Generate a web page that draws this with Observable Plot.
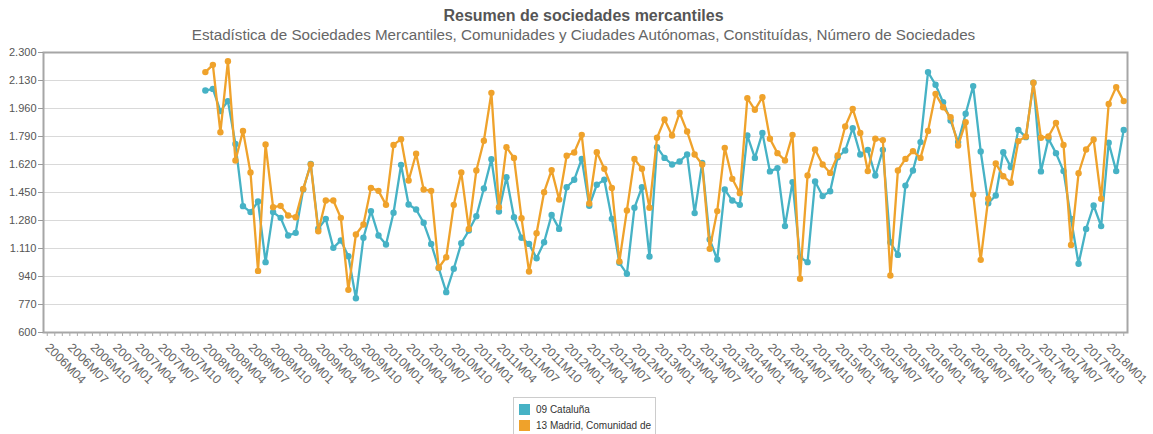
<!DOCTYPE html>
<html>
<head>
<meta charset="utf-8">
<script src="https://cdn.jsdelivr.net/npm/d3@7"></script>
<script src="https://cdn.jsdelivr.net/npm/@observablehq/plot@0.6"></script>
<style>
  body { margin: 0; background: #fff; font-family: "Liberation Sans", Arial, sans-serif; }
  #wrap { width: 1153px; position: relative; }
  .title { text-align: center; font-size: 16px; font-weight: bold; color: #555; line-height: 20px; margin-top: 6px; padding-left: 14px; }
  .subtitle { text-align: center; font-size: 15.2px; color: #666; line-height: 18px; padding-left: 14px; }
  #chart svg { display: block; }
  .legend { margin: 3px 0 0 513px; width: 143px; border: 1px solid #ccc; padding: 3px 0 2px 5px; box-sizing: border-box; font-size: 10px; color: #333; }
  .legend .item { display: flex; align-items: center; height: 16px; }
  .legend .sw { width: 11px; height: 11px; margin-right: 6px; }
</style>
</head>
<body>
<div id="wrap">
  <div class="title">Resumen de sociedades mercantiles</div>
  <div class="subtitle">Estadística de Sociedades Mercantiles, Comunidades y Ciudades Autónomas, Constituídas, Número de Sociedades</div>
  <div id="chart"></div>
  <div class="legend" id="legend"></div>
</div>
<script>
// Axis categories: 2006M04 .. 2018M03
const axisStartYear = 2006, axisStartMonth = 4, axisCount = 144;
// Data starts at 2008M01
const dataStartYear = 2008, dataStartMonth = 1;

const seriesNames = ["09 Cataluña", "13 Madrid, Comunidad de"];
const seriesColors = ["#46b2c5", "#efa22b"];

const cataluna = [
  2069, 2079, 1944, 2005, 1745, 1367, 1331, 1395, 1027, 1331, 1296, 1189, 1205, 1468, 1624, 1230, 1290, 1114,
  1159, 1063, 808, 1175, 1337, 1189, 1134, 1327, 1618, 1377, 1347, 1266, 1138, 991, 845, 987, 1142, 1219,
  1306, 1474, 1652, 1335, 1543, 1300, 1175, 1138, 1051, 1148, 1314, 1229, 1482, 1527, 1654, 1369, 1497, 1527,
  1290, 1023, 956, 1357, 1482, 1061, 1725, 1660, 1620, 1638, 1681, 1325, 1630, 1165, 1043, 1468, 1401,
  1375, 1796, 1660, 1812, 1578, 1598, 1246, 1513, 1057, 1027, 1517, 1428, 1458, 1664, 1705, 1841, 1681, 1709,
  1553, 1709, 1148, 1071, 1492, 1584, 1756, 2181, 2104, 1998, 1887, 1756, 1928, 2096, 1699, 1385, 1432, 1695,
  1604, 1830, 1786, 2116, 1578, 1776, 1689, 1580, 1290, 1017, 1229, 1371, 1246, 1752, 1580, 1830
];
const madrid = [
  2181, 2225, 1816, 2247, 1644, 1824, 1571, 974, 1741, 1361, 1369, 1310, 1300, 1472, 1620, 1215, 1401, 1401,
  1296, 859, 1195, 1256, 1478, 1460, 1375, 1739, 1774, 1523, 1685, 1468, 1460, 993, 1057, 1375, 1571, 1229,
  1584, 1764, 2055, 1361, 1725, 1660, 1294, 970, 1203, 1452, 1586, 1407, 1673, 1693, 1800, 1383, 1695, 1594,
  1478, 1031, 1341, 1654, 1594, 1357, 1782, 1893, 1796, 1934, 1820, 1681, 1620, 1108, 1337, 1721, 1533,
  1446, 2023, 1952, 2029, 1776, 1689, 1644, 1800, 926, 1553, 1711, 1620, 1569, 1675, 1851, 1958, 1812, 1580,
  1776, 1768, 946, 1584, 1654, 1701, 1660, 1824, 2049, 1968, 1907, 1735, 1877, 1438, 1041, 1412, 1626, 1549,
  1509, 1762, 1790, 2116, 1782, 1790, 1873, 1739, 1132, 1567, 1711, 1772, 1412, 1988, 2090, 2005
];
const yTicks = [600, 770, 940, 1110, 1280, 1450, 1620, 1790, 1960, 2130, 2300];

function monthLabel(y, m) { return y + "M" + String(m).padStart(2, "0"); }
function monthSeq(y, m, n) {
  const out = [];
  for (let k = 0; k < n; k++) {
    const t = (m - 1) + k;
    out.push(monthLabel(y + Math.floor(t / 12), (t % 12) + 1));
  }
  return out;
}
const axisMonths = monthSeq(axisStartYear, axisStartMonth, axisCount);
const dataMonths = monthSeq(dataStartYear, dataStartMonth, cataluna.length);

const rowsCat = dataMonths.map((m, i) => ({month: m, value: cataluna[i], series: seriesNames[0]}));
const rowsMad = dataMonths.map((m, i) => ({month: m, value: madrid[i], series: seriesNames[1]}));

const esFmt = d3.formatLocale({decimal: ",", thousands: ".", grouping: [3], currency: ["", ""]}).format(",");

const chart = Plot.plot({
  width: 1153,
  height: 350,
  marginLeft: 43,
  marginRight: 26,
  marginTop: 8,
  marginBottom: 62,
  style: {fontFamily: "'Liberation Sans', Arial, sans-serif", fontSize: "11px", color: "#555", background: "#fff"},
  x: {type: "band", domain: axisMonths, padding: 0, label: null},
  y: {domain: [600, 2300], label: null},
  color: {domain: seriesNames, range: seriesColors},
  marks: [
    Plot.gridY(yTicks, {stroke: "#d9d9d9", strokeOpacity: 1, strokeWidth: 1}),
    Plot.frame({stroke: "#a6a6a6", strokeWidth: 2}),
    Plot.axisY(yTicks, {tickFormat: esFmt, tickSize: 5, tickPadding: 2, fontSize: 11, stroke: "#999", label: null}),
    Plot.axisX(axisMonths, {
      tickRotate: 45,
      tickSize: 4,
      tickPadding: 9,
      stroke: "#aaa",
      fontSize: 12.3,
      fill: "#666",
      label: null,
      tickFormat: d => (axisMonths.indexOf(d) % 3 === 0 ? d : "")
    }),
    Plot.line(rowsCat, {x: "month", y: "value", stroke: seriesColors[0], strokeWidth: 2.3}),
    Plot.dot(rowsCat, {x: "month", y: "value", fill: seriesColors[0], r: 3.2}),
    Plot.line(rowsMad, {x: "month", y: "value", stroke: seriesColors[1], strokeWidth: 2.3}),
    Plot.dot(rowsMad, {x: "month", y: "value", fill: seriesColors[1], r: 3.2})
  ]
});
document.getElementById("chart").appendChild(chart);

const legend = document.getElementById("legend");
seriesNames.forEach((name, i) => {
  const it = document.createElement("div");
  it.className = "item";
  const sw = document.createElement("span");
  sw.className = "sw";
  sw.style.background = seriesColors[i];
  const tx = document.createElement("span");
  tx.textContent = name;
  it.appendChild(sw); it.appendChild(tx);
  legend.appendChild(it);
});
</script>
</body>
</html>
